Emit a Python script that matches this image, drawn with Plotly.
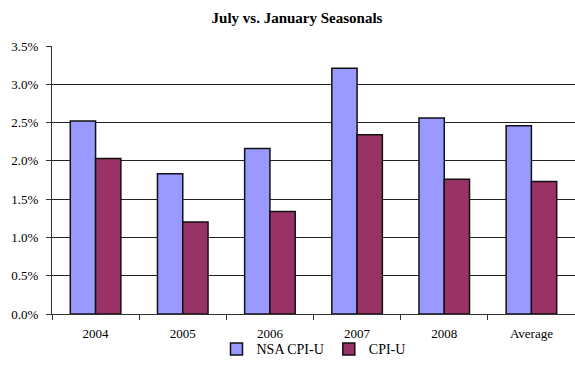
import plotly.graph_objects as go

# Seasonal factor difference, July vs. January (percent)
categories = ["2004", "2005", "2006", "2007", "2008", "Average"]
nsa_cpi_u = [2.52, 1.83, 2.16, 3.21, 2.56, 2.46]
cpi_u = [2.03, 1.20, 1.34, 2.34, 1.76, 1.73]
y_ticks = [0.0, 0.5, 1.0, 1.5, 2.0, 2.5, 3.0, 3.5]

FONT = "Liberation Serif"

fig = go.Figure()
fig.add_trace(go.Bar(
    x=categories, y=nsa_cpi_u, name="NSA CPI-U",
    marker=dict(color="#9999FF", line=dict(color="#111111", width=1.5)),
))
fig.add_trace(go.Bar(
    x=categories, y=cpi_u, name="CPI-U",
    marker=dict(color="#993366", line=dict(color="#111111", width=1.5)),
))

fig.update_layout(
    width=575, height=377,
    margin=dict(l=52, r=0, t=46, b=63),
    paper_bgcolor="white", plot_bgcolor="white",
    barmode="group", bargap=0.42, bargroupgap=0,
    font=dict(family=FONT, size=13, color="black"),
    title=dict(
        text="<b>July vs. January Seasonals</b>",
        x=297 / 575, xref="container", xanchor="center",
        y=1 - 18 / 377, yref="container", yanchor="middle",
        font=dict(family=FONT, size=15, color="black"),
    ),
    legend=dict(
        orientation="h", x=0.50, xanchor="center",
        y=-0.132, yanchor="middle",
        bgcolor="rgba(0,0,0,0)",
        font=dict(family=FONT, size=14, color="black"),
        itemwidth=30, tracegroupgap=0,
    ),
    showlegend=True,
)

fig.update_xaxes(
    type="category", tickson="boundaries",
    ticks="outside", ticklen=5, tickcolor="#333333",
    ticklabelstandoff=7,
    showline=True, linecolor="#333333", linewidth=1,
    showgrid=False, tickfont=dict(family=FONT, size=13, color="black"),
)
fig.update_yaxes(
    range=[0, 3.5], tickvals=y_ticks,
    ticktext=[f"{v:.1f}%" for v in y_ticks],
    ticks="outside", ticklen=5, tickcolor="#333333",
    ticklabelstandoff=5,
    showline=True, linecolor="#333333", linewidth=1,
    showgrid=True, gridcolor="#222222", gridwidth=1,
    zeroline=False, tickfont=dict(family=FONT, size=13, color="black"),
)

fig.write_html("out.html")
